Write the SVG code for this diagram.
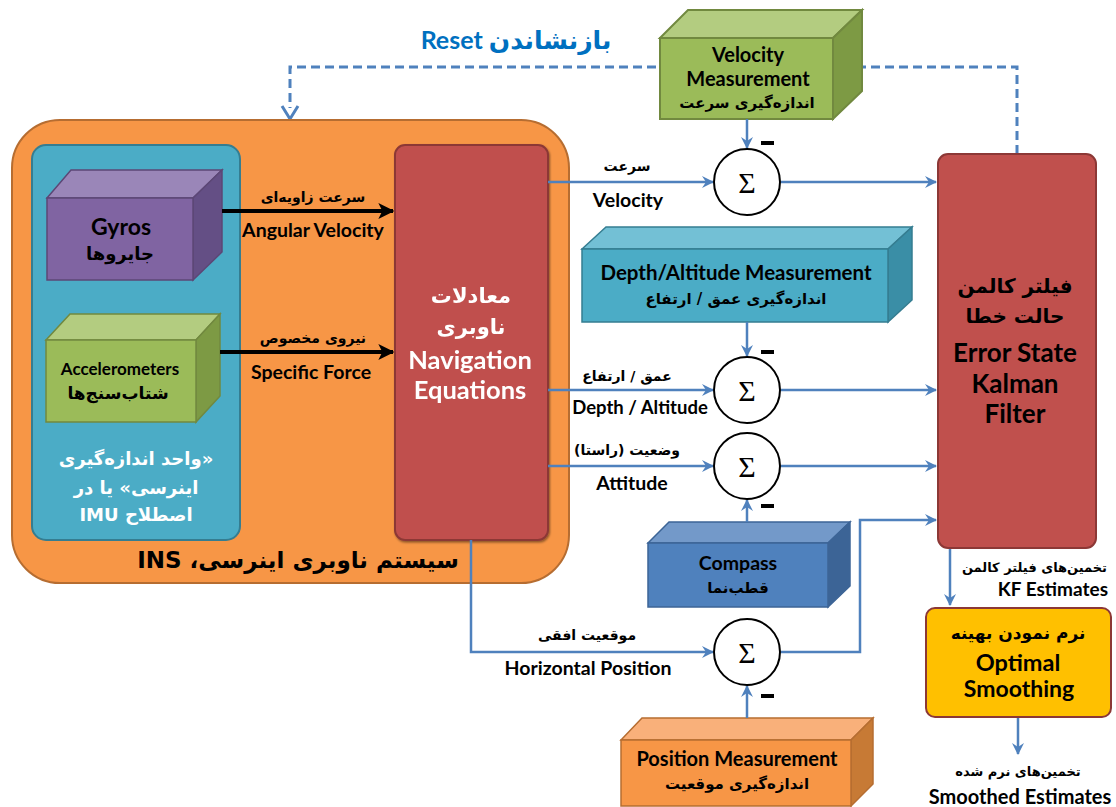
<svg xmlns="http://www.w3.org/2000/svg" width="1116" height="807" viewBox="0 0 1116 807">
  <defs>
    <marker id="arrBlue" viewBox="0 0 12 12" refX="11" refY="6" markerWidth="12" markerHeight="12" markerUnits="userSpaceOnUse" orient="auto">
      <path d="M0,0 L12,6 L0,12 L4,6 z" fill="#4F81BD"/>
    </marker>
    <marker id="arrBlack" viewBox="0 0 12 12" refX="11" refY="6" markerWidth="16" markerHeight="16" markerUnits="userSpaceOnUse" orient="auto">
      <path d="M0,0 L12,6 L0,12 L3,6 z" fill="#000"/>
    </marker>
    <filter id="shadow" x="-10%" y="-10%" width="130%" height="130%">
      <feDropShadow dx="1" dy="1.5" stdDeviation="1" flood-color="#000" flood-opacity="0.45"/>
    </filter>
    <style>
      .en { font-family: Lato, "Open Sans", "DejaVu Sans", sans-serif; font-weight: bold; text-anchor: middle; fill: #000; }
      .fa { font-family: "DejaVu Sans", sans-serif; font-weight: bold; text-anchor: middle; fill: #000; direction: rtl; }
      .wh { fill: #fff; }
      .link { fill: none; stroke: #4F81BD; stroke-width: 2.5; }
      .dash { fill: none; stroke: #4F81BD; stroke-width: 3; stroke-dasharray: 9 5; }
      .sum { fill: #fff; stroke: #000; stroke-width: 2; }
      .sig { font-family: "Liberation Serif", serif; font-size: 30px; text-anchor: middle; fill: #000; }
      .minus { fill: #000; }
    </style>
  </defs>

  <!-- reset feedback line -->
  <g id="connectors">
    <path class="dash" d="M1017,154 V67 H290 V108"/>
    <path d="M282,106 L290,119 L298,106" fill="none" stroke="#4F81BD" stroke-width="3"/>
  </g>
  <text x="516" y="49" class="fa" style="fill:#0070C0;font-size:25px;font-family:Lato,'DejaVu Sans',sans-serif">بازنشاندن Reset</text>

  <!-- INS -->
  <g id="ins">
    <rect x="12" y="120" width="557" height="463" rx="48" fill="#F79646" stroke="#B66D31" stroke-width="2"/>
    <text x="298" y="568" class="fa" style="font-size:23px">سیستم ناوبری اینرسی، INS</text>
  </g>

  <g id="imu">
    <rect x="32" y="145" width="208" height="395" rx="14" fill="#4BACC6" stroke="#357D91" stroke-width="2"/>
    <text x="136" y="465" class="fa wh" style="font-size:18px">«واحد اندازه‌گیری</text>
    <text x="136" y="494" class="fa wh" style="font-size:18px">اینرسی» یا در</text>
    <text x="136" y="521" class="fa wh" style="font-size:18px">اصطلاح IMU</text>
  </g>

  <g id="gyros">
    <polygon points="47,198 71,170 222,170 193,198" fill="#9A86B8" stroke="#5C4776" stroke-width="1.5"/>
    <polygon points="193,198 222,170 222,252 193,280" fill="#644F85" stroke="#5C4776" stroke-width="1.5"/>
    <rect x="47" y="198" width="146" height="82" fill="#8064A2" stroke="#5C4776" stroke-width="1.5"/>
    <text x="121" y="235" class="en" style="font-size:23px">Gyros</text>
    <text x="120" y="260" class="fa" style="font-size:18px">جایروها</text>
  </g>

  <g id="accelerometers">
    <polygon points="46,340 70,314 220,314 196,340" fill="#B3CC80" stroke="#71893F" stroke-width="1.5"/>
    <polygon points="196,340 220,314 220,396 196,422" fill="#7D9A44" stroke="#71893F" stroke-width="1.5"/>
    <rect x="46" y="340" width="150" height="82" fill="#9BBB59" stroke="#71893F" stroke-width="1.5"/>
    <text x="120" y="375" class="en" style="font-size:17px">Accelerometers</text>
    <text x="118" y="399" class="fa" style="font-size:17px">شتاب‌سنج‌ها</text>
  </g>

  <g id="nav-equations" filter="url(#shadow)">
    <rect x="395" y="145" width="153" height="395" rx="10" fill="#C0504D" stroke="#8C3836" stroke-width="2"/>
    <text x="471" y="303" class="fa wh" style="font-size:21px">معادلات</text>
    <text x="471" y="334" class="fa wh" style="font-size:21px">ناوبری</text>
    <text x="470" y="369" class="en wh" style="font-size:25.5px">Navigation</text>
    <text x="470" y="399" class="en wh" style="font-size:25.5px">Equations</text>
  </g>

  <!-- black IMU outputs -->
  <g id="imu-links">
    <line x1="222" y1="211" x2="393" y2="211" stroke="#000" stroke-width="4" marker-end="url(#arrBlack)"/>
    <text x="313" y="202" class="fa" style="font-size:14px">سرعت زاویه‌ای</text>
    <text x="313" y="237" class="en" style="font-size:19.5px">Angular Velocity</text>
    <line x1="220" y1="352" x2="393" y2="352" stroke="#000" stroke-width="4" marker-end="url(#arrBlack)"/>
    <text x="313" y="343" class="fa" style="font-size:14px">نیروی مخصوص</text>
    <text x="311" y="379" class="en" style="font-size:19.5px">Specific Force</text>
  </g>

  <!-- measurement boxes -->
  <g id="velocity-measurement">
    <polygon points="660,38 688,10 862,10 833,38" fill="#B3CC80" stroke="#71893F" stroke-width="2"/>
    <polygon points="833,38 862,10 862,91 833,119" fill="#7D9A44" stroke="#71893F" stroke-width="2"/>
    <rect x="660" y="38" width="173" height="81" fill="#9BBB59" stroke="#71893F" stroke-width="2"/>
    <text x="748" y="62" class="en" style="font-size:20px">Velocity</text>
    <text x="748" y="86" class="en" style="font-size:20px">Measurement</text>
    <text x="747" y="108" class="fa" style="font-size:15px">اندازه‌گیری سرعت</text>
  </g>

  <g id="depth-measurement">
    <polygon points="582,249 606,227 912,227 888,249" fill="#73C0D5" stroke="#357D91" stroke-width="1.5"/>
    <polygon points="888,249 912,227 912,300 888,322" fill="#3A8EA6" stroke="#357D91" stroke-width="1.5"/>
    <rect x="582" y="249" width="306" height="73" fill="#4BACC6" stroke="#357D91" stroke-width="1.5"/>
    <text x="736" y="280" class="en" style="font-size:20.5px">Depth/Altitude Measurement</text>
    <text x="736" y="304" class="fa" style="font-size:15px">اندازه‌گیری عمق / ارتفاع</text>
  </g>

  <g id="compass">
    <polygon points="648,543 669,522 850,522 828,543" fill="#7399C9" stroke="#3C6496" stroke-width="1.5"/>
    <polygon points="828,543 850,522 850,586 828,607" fill="#3C6496" stroke="#3C6496" stroke-width="1.5"/>
    <rect x="648" y="543" width="180" height="64" fill="#4F81BD" stroke="#3C6496" stroke-width="1.5"/>
    <text x="738" y="570" class="en" style="font-size:19.5px">Compass</text>
    <text x="738" y="593" class="fa" style="font-size:15px">قطب‌نما</text>
  </g>

  <g id="position-measurement">
    <polygon points="621,740 642,718 873,718 851,740" fill="#F9B07A" stroke="#B66D31" stroke-width="1.5"/>
    <polygon points="851,740 873,718 873,784 851,806" fill="#C77A35" stroke="#B66D31" stroke-width="1.5"/>
    <rect x="621" y="740" width="230" height="66" fill="#F79646" stroke="#B66D31" stroke-width="1.5"/>
    <text x="737" y="766" class="en" style="font-size:20px">Position Measurement</text>
    <text x="737" y="789" class="fa" style="font-size:15px">اندازه‌گیری موقعیت</text>
  </g>

  <!-- blue signal connectors -->
  <g id="signal-links">
    <line class="link" x1="548" y1="182" x2="713" y2="182" marker-end="url(#arrBlue)"/>
    <line class="link" x1="781" y1="182" x2="936" y2="182" marker-end="url(#arrBlue)"/>
    <line class="link" x1="747" y1="119" x2="747" y2="148" marker-end="url(#arrBlue)"/>

    <line class="link" x1="548" y1="390" x2="713" y2="390" marker-end="url(#arrBlue)"/>
    <line class="link" x1="781" y1="390" x2="936" y2="390" marker-end="url(#arrBlue)"/>
    <line class="link" x1="747" y1="322" x2="747" y2="356" marker-end="url(#arrBlue)"/>

    <line class="link" x1="548" y1="466" x2="713" y2="466" marker-end="url(#arrBlue)"/>
    <line class="link" x1="781" y1="466" x2="936" y2="466" marker-end="url(#arrBlue)"/>
    <line class="link" x1="747" y1="522" x2="747" y2="500" marker-end="url(#arrBlue)"/>

    <path class="link" d="M471,540 V652 H713" marker-end="url(#arrBlue)"/>
    <path class="link" d="M781,652 H860 V520 H936" marker-end="url(#arrBlue)"/>
    <line class="link" x1="747" y1="718" x2="747" y2="686" marker-end="url(#arrBlue)"/>

    <line class="link" x1="950" y1="548" x2="950" y2="605" marker-end="url(#arrBlue)"/>
    <line class="link" x1="1018" y1="717" x2="1018" y2="754" marker-end="url(#arrBlue)"/>
  </g>

  <!-- signal labels -->
  <g id="signal-labels">
    <text x="627" y="171" class="fa" style="font-size:14px">سرعت</text>
    <text x="628" y="207" class="en" style="font-size:19.5px">Velocity</text>
    <text x="627" y="381" class="fa" style="font-size:14px">عمق / ارتفاع</text>
    <text x="640" y="414" class="en" style="font-size:18.5px">Depth / Altitude</text>
    <text x="627" y="455" class="fa" style="font-size:14px">وضعیت (راستا)</text>
    <text x="632" y="490" class="en" style="font-size:19.5px">Attitude</text>
    <text x="587" y="640" class="fa" style="font-size:14px">موقعیت افقی</text>
    <text x="588" y="675" class="en" style="font-size:19.5px">Horizontal Position</text>
  </g>

  <!-- summing junctions -->
  <g id="sum-velocity">
    <circle class="sum" cx="747" cy="182" r="33"/>
    <text x="747" y="193" class="sig">Σ</text>
    <rect class="minus" x="761" y="141" width="13" height="4"/>
  </g>
  <g id="sum-depth">
    <circle class="sum" cx="747" cy="390" r="33"/>
    <text x="747" y="401" class="sig">Σ</text>
    <rect class="minus" x="761" y="350" width="13" height="4"/>
  </g>
  <g id="sum-attitude">
    <circle class="sum" cx="747" cy="466" r="33"/>
    <text x="747" y="477" class="sig">Σ</text>
    <rect class="minus" x="761" y="504" width="13" height="4"/>
  </g>
  <g id="sum-position">
    <circle class="sum" cx="747" cy="652" r="33"/>
    <text x="747" y="663" class="sig">Σ</text>
    <rect class="minus" x="761" y="694" width="13" height="4"/>
  </g>

  <g id="kalman-filter">
    <rect x="938" y="154" width="158" height="394" rx="10" fill="#C0504D" stroke="#8C3836" stroke-width="2"/>
    <text x="1015" y="293" class="fa" style="font-size:20px">فیلتر کالمن</text>
    <text x="1015" y="323" class="fa" style="font-size:20px">حالت خطا</text>
    <text x="1015" y="362" class="en" style="font-size:26px">Error State</text>
    <text x="1015" y="393" class="en" style="font-size:26px">Kalman</text>
    <text x="1015" y="423" class="en" style="font-size:26px">Filter</text>
  </g>

  <g id="kf-estimates-label">
    <text x="1107" y="572" class="fa" style="font-size:13px;text-anchor:start">تخمین‌های فیلتر کالمن</text>
    <text x="1108" y="596" class="en" style="font-size:19px;text-anchor:end">KF Estimates</text>
  </g>

  <g id="optimal-smoothing">
    <rect x="926" y="608" width="185" height="109" rx="9" fill="#FFC000" stroke="#8C3836" stroke-width="2"/>
    <text x="1018" y="639" class="fa" style="font-size:17px">نرم نمودن بهینه</text>
    <text x="1018" y="671" class="en" style="font-size:23.5px">Optimal</text>
    <text x="1019" y="697" class="en" style="font-size:23px">Smoothing</text>
  </g>

  <g id="smoothed-estimates-label">
    <text x="1018" y="776" class="fa" style="font-size:13px">تخمین‌های نرم شده</text>
    <text x="1020" y="804" class="en" style="font-size:20px">Smoothed Estimates</text>
  </g>
</svg>
